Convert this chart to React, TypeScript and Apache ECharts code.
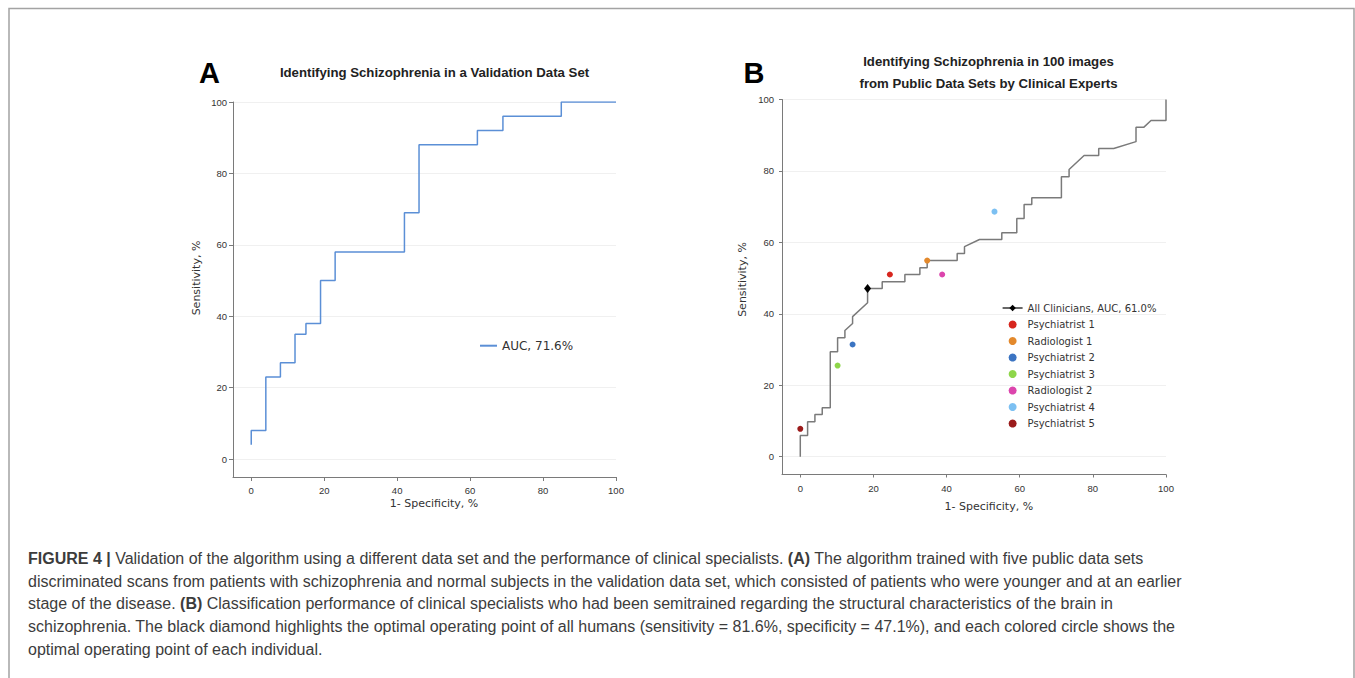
import React, { useEffect, useRef } from 'react';
import * as echarts from 'echarts';

// ---------- DATA ----------
const tickValues = [0, 20, 40, 60, 80, 100];

const seriesNameA = 'AUC, 71.6%';
const rocA: [number, number][] = [
  [0, 4], [0, 8], [4, 8], [4, 23], [8, 23], [8, 27], [12, 27], [12, 35], [15, 35], [15, 38],
  [19, 38], [19, 50], [23, 50], [23, 58], [42, 58], [42, 69], [46, 69], [46, 88], [62, 88],
  [62, 92], [69, 92], [69, 96], [85, 96], [85, 100], [100, 100],
];

const seriesNameB = 'All Clinicians, AUC, 61.0%';
const rocB: [number, number][] = [
  [0, 0], [0, 5.9], [2, 5.9], [2, 9.8], [4, 9.8], [4, 11.8], [6, 11.8], [6, 13.7], [8.2, 13.7],
  [8.2, 29.4], [10.2, 29.4], [10.2, 33.3], [12.2, 33.3], [12.2, 35.3], [14.3, 37.3], [14.3, 39.2],
  [18.4, 43.1], [18.4, 47.1], [22.4, 47.1], [22.4, 49], [28.6, 49], [28.6, 51], [32.7, 51],
  [32.7, 52.9], [34.7, 52.9], [34.7, 54.9], [42.9, 54.9], [42.9, 56.9], [44.9, 56.9], [44.9, 58.8],
  [49, 60.8], [55.1, 60.8], [55.1, 62.7], [59.2, 62.7], [59.2, 66.7], [61.2, 66.7], [61.2, 70.6],
  [63.3, 70.6], [63.3, 72.5], [71.4, 72.5], [71.4, 78.4], [73.5, 78.4], [73.5, 80.4], [77.6, 84.3],
  [81.6, 84.3], [81.6, 86.3], [85.7, 86.3], [91.8, 88.2], [91.8, 92.2], [93.9, 92.2], [95.9, 94.1],
  [100, 94.1], [100, 100],
];
const operatingPointAll: [number, number] = [18.4, 47.1];

const clinicianNames = [
  'Psychiatrist 1', 'Radiologist 1', 'Psychiatrist 2', 'Psychiatrist 3',
  'Radiologist 2', 'Psychiatrist 4', 'Psychiatrist 5',
];
const clinicianPoints: [number, number][] = [
  [24.5, 51], [34.7, 54.9], [14.3, 31.4], [10.2, 25.5], [38.8, 51], [53.1, 68.6], [0, 7.8],
];

const titleA = 'Identifying Schizophrenia in a Validation Data Set';
const titleB1 = 'Identifying Schizophrenia in 100 images';
const titleB2 = 'from Public Data Sets by Clinical Experts';
const xName = '1- Specificity, %';
const yName = 'Sensitivity, %';

const captionLines = [
  '{b|FIGURE 4 |} Validation of the algorithm using a different data set and the performance of clinical specialists. {b|(A)} The algorithm trained with five public data sets',
  'discriminated scans from patients with schizophrenia and normal subjects in the validation data set, which consisted of patients who were younger and at an earlier',
  'stage of the disease. {b|(B)} Classification performance of clinical specialists who had been semitrained regarding the structural characteristics of the brain in',
  'schizophrenia. The black diamond highlights the optimal operating point of all humans (sensitivity = 81.6%, specificity = 47.1%), and each colored circle shows the',
  'optimal operating point of each individual.',
];

// ---------- STYLES ----------
const clinicianColors = ['#d7261e', '#e3892c', '#3b74c2', '#8ed64a', '#dc45ad', '#7cc0f2', '#9b1b1b'];
const axisColor = '#7a7a7a';
const labelFont = 'Liberation Sans';
const sansFont = 'DejaVu Sans';
const captionColor = '#3c3c3c';
const captionTops = [558.5, 581.2, 603.9, 626.6, 649.3];

function makeAxis(gridIndex: number, isY: boolean, margin: number, tickLen: number) {
  return {
    gridIndex,
    type: 'value',
    min: -5,
    max: 100,
    axisLine: { show: true, onZero: false, lineStyle: { color: axisColor, width: 1 } },
    axisTick: { show: true, customValues: tickValues, length: tickLen, lineStyle: { color: axisColor } },
    axisLabel: { customValues: tickValues, margin, fontSize: 9.5, color: '#333', fontFamily: labelFont },
    splitLine: isY ? { show: true, lineStyle: { color: '#f0f0f0', width: 1 } } : { show: false },
  };
}

function textEl(text: string, x: number, y: number, font: string, fill: string, rotation = 0) {
  return {
    type: 'text',
    x,
    y,
    rotation,
    silent: true,
    style: {
      text,
      font,
      fill,
      textAlign: 'center',
      textVerticalAlign: 'middle',
      align: 'center',
      verticalAlign: 'middle',
    },
  };
}

export default function App() {
  const ref = useRef<HTMLDivElement>(null);

  useEffect(() => {
    if (!ref.current) return;
    const chart = echarts.init(ref.current, undefined, { renderer: 'svg' });

    const captionBase = { fontSize: 16, fontFamily: labelFont, fill: captionColor };

    const option: any = {
      animation: false,
      backgroundColor: '#ffffff',
      grid: [
        { left: 233, top: 102, width: 383, height: 375, containLabel: false, outerBoundsMode: 'none' },
        { left: 782, top: 99.5, width: 384, height: 375, containLabel: false, outerBoundsMode: 'none' },
      ],
      xAxis: [makeAxis(0, false, 8, 4), makeAxis(1, false, 9, 3)],
      yAxis: [makeAxis(0, true, 6, 4), makeAxis(1, true, 8, 3)],
      legend: [
        {
          data: [{ name: seriesNameA, itemStyle: { opacity: 0 } }],
          orient: 'vertical',
          left: 479,
          top: 338.7,
          padding: 0,
          itemWidth: 17,
          itemHeight: 10,
          itemGap: 0,
          textStyle: { fontSize: 12, lineHeight: 14, fontFamily: sansFont, color: '#333' },
        },
        {
          data: [
            { name: seriesNameB, itemStyle: { color: '#000' }, lineStyle: { color: '#000', width: 1.2 } },
            ...clinicianNames,
          ],
          orient: 'vertical',
          left: 1002,
          top: 302,
          padding: 0,
          itemWidth: 20,
          itemHeight: 8,
          itemGap: 4.5,
          textStyle: { fontSize: 10, lineHeight: 12, fontFamily: sansFont, color: '#333' },
        },
      ],
      series: [
        {
          name: seriesNameA,
          type: 'line',
          xAxisIndex: 0,
          yAxisIndex: 0,
          data: rocA,
          symbol: 'none',
          lineStyle: { color: '#5b8fd6', width: 1.5 },
          itemStyle: { color: '#5b8fd6' },
        },
        {
          name: seriesNameB,
          type: 'line',
          xAxisIndex: 1,
          yAxisIndex: 1,
          symbol: 'diamond',
          showSymbol: true,
          data: rocB.map((p) =>
            p[0] === operatingPointAll[0] && p[1] === operatingPointAll[1]
              ? { value: p, symbol: 'diamond', symbolSize: [7, 9] }
              : { value: p, symbol: 'none' }
          ),
          lineStyle: { color: '#7a7a7a', width: 1.5 },
          itemStyle: { color: '#000' },
          z: 2,
        },
        ...clinicianNames.map((name, i) => ({
          name,
          type: 'scatter',
          xAxisIndex: 1,
          yAxisIndex: 1,
          symbol: 'circle',
          symbolSize: 6,
          data: [clinicianPoints[i]],
          itemStyle: { color: clinicianColors[i], opacity: 1 },
          z: 3,
        })),
      ],
      graphic: [
        {
          type: 'rect',
          silent: true,
          shape: { x: 9, y: 8.5, width: 1345, height: 700 },
          style: { fill: 'none', stroke: '#a3a3a3', lineWidth: 1.5 },
        },
        textEl('A', 209.5, 73, `bold 29px "${labelFont}"`, '#000'),
        textEl('B', 754, 73, `bold 29px "${labelFont}"`, '#000'),
        textEl(titleA, 434.5, 72.7, `bold 13.2px "${labelFont}"`, '#222'),
        textEl(titleB1, 988.5, 61, `bold 13.2px "${labelFont}"`, '#222'),
        textEl(titleB2, 988.5, 83.3, `bold 13.2px "${labelFont}"`, '#222'),
        textEl(yName, 196, 278, `11px "${sansFont}"`, '#333', Math.PI / 2),
        textEl(yName, 742, 279.5, `11px "${sansFont}"`, '#333', Math.PI / 2),
        textEl(xName, 434, 503.3, `11px "${sansFont}"`, '#333'),
        textEl(xName, 988.8, 506.7, `11px "${sansFont}"`, '#333'),
        ...captionLines.map((line, i) => ({
          type: 'text',
          x: 28,
          y: captionTops[i],
          silent: true,
          style: {
            text: line,
            ...captionBase,
            textAlign: 'left',
            textVerticalAlign: 'middle',
            align: 'left',
            verticalAlign: 'middle',
            rich: {
              b: { ...captionBase, fontWeight: 'bold' },
            },
          },
        })),
      ],
    };

    chart.setOption(option);
    return () => chart.dispose();
  }, []);

  return (
    <div
      ref={ref}
      style={{ position: 'fixed', left: 0, top: 0, width: 1355, height: 678, background: '#fff' }}
    />
  );
}
